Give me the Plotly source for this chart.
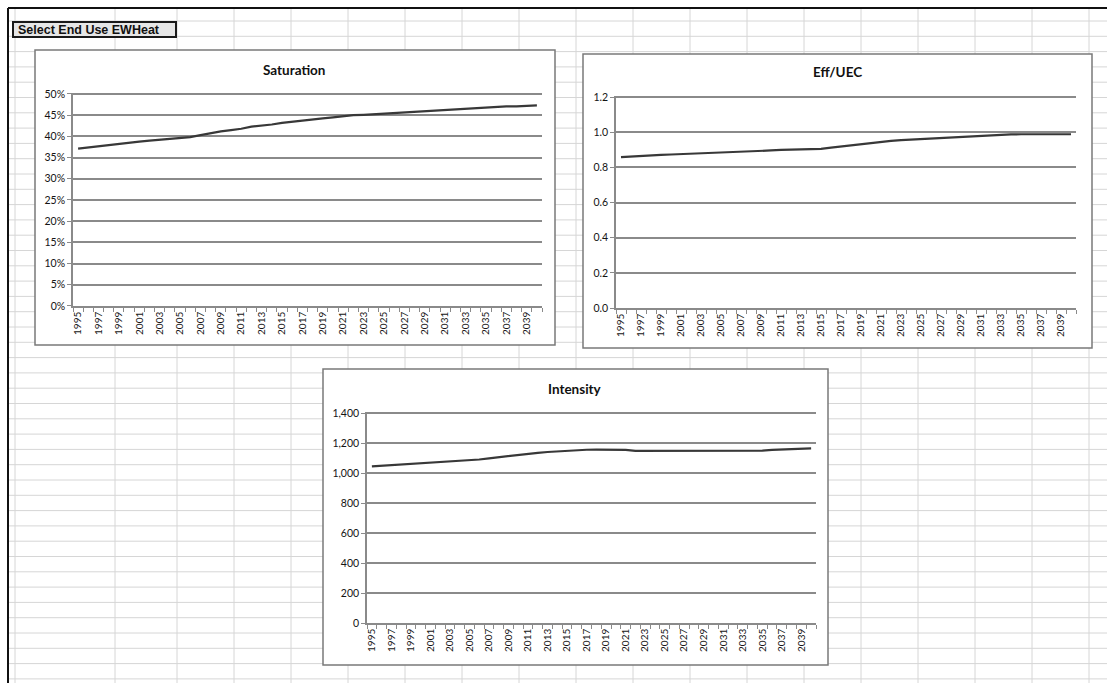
import plotly.graph_objects as go

# ---- data -------------------------------------------------------------
years = list(range(1995, 2041))

saturation_pct = [
    37.1, 37.4, 37.7, 38.0, 38.25, 38.5, 38.75, 39.0, 39.2, 39.45,
    39.65, 39.85, 40.3, 40.8, 41.2, 41.5, 41.8, 42.3, 42.5, 42.8,
    43.2, 43.5, 43.8, 44.0, 44.25, 44.5, 44.8, 45.0, 45.1, 45.25,
    45.3, 45.6, 45.75, 45.85, 45.95, 46.05, 46.35, 46.5, 46.6, 46.7,
    46.85, 47.0, 47.1, 47.1, 47.2, 47.3,
]

eff_uec = [
    0.858, 0.862, 0.866, 0.869, 0.871, 0.873, 0.875, 0.877, 0.878, 0.880,
    0.882, 0.885, 0.888, 0.890, 0.893, 0.896, 0.899, 0.901, 0.901, 0.902,
    0.905, 0.912, 0.919, 0.925, 0.931, 0.937, 0.943, 0.950, 0.955, 0.958,
    0.961, 0.965, 0.969, 0.972, 0.975, 0.978, 0.981, 0.983, 0.985, 0.987,
    0.988, 0.988, 0.988, 0.988, 0.988, 0.988,
]

intensity = [
    1044, 1048, 1052, 1055, 1058, 1064, 1070, 1073, 1076, 1078,
    1083, 1090, 1098, 1106, 1114, 1121, 1128, 1134, 1140, 1145,
    1149, 1152, 1155, 1156, 1156, 1156, 1154, 1148, 1148, 1148,
    1148, 1148, 1148, 1148, 1148, 1148, 1148, 1148, 1148, 1148,
    1149, 1154, 1157, 1158, 1163, 1164,
]

year_labels = [y for y in years if y % 2 == 1]

sat_ticks = [0, 5, 10, 15, 20, 25, 30, 35, 40, 45, 50]
sat_tick_text = [f"{v}%" for v in sat_ticks]
eff_ticks = [0.0, 0.2, 0.4, 0.6, 0.8, 1.0, 1.2]
int_ticks = [0, 200, 400, 600, 800, 1000, 1200, 1400]

# ---- page geometry (pixels) ------------------------------------------
W, H = 1107, 683


def px(x):
    return x / W


def py(y):
    return 1 - y / H


FONT = "Lato, 'Open Sans', Arial, sans-serif"
BTN_FONT = "'Liberation Sans', Arial, sans-serif"
LINE_COLOR = "#383838"
GRID_COLOR = "#8a8a8a"
AXIS_COLOR = "#8a8a8a"
SHEET_GRID = "#d6d6d6"
TEXT_COLOR = "#141414"

fig = go.Figure()

panels = [
    # name, values, x-axis id, y-axis id, plot area (left, top, right, bottom)
    ("Saturation", saturation_pct, "x", "y", (73, 94, 542, 306)),
    ("Eff/UEC", eff_uec, "x2", "y2", (616, 97, 1076, 308)),
    ("Intensity", intensity, "x3", "y3", (367, 413, 816, 623)),
]

for name, vals, xa, ya, _ in panels:
    fig.add_trace(go.Scatter(
        x=years, y=vals, mode="lines", name=name,
        line=dict(color=LINE_COLOR, width=2.2),
        xaxis=xa, yaxis=ya, showlegend=False, hoverinfo="x+y",
    ))


def x_axis(left, right, anchor):
    return dict(
        domain=[px(left), px(right)], anchor=anchor,
        range=[1994.5, 2040.5],
        tickmode="array", tickvals=year_labels,
        ticktext=[str(y) for y in year_labels],
        tickangle=-90, ticks="", ticklen=4,
        tickfont=dict(family=FONT, size=10, color=TEXT_COLOR),
        showgrid=False, zeroline=False, automargin=False,
        showline=True, linecolor=AXIS_COLOR, linewidth=1.5,
        minor=dict(ticks="outside", tickmode="linear", tick0=1994.5, dtick=1,
                   ticklen=4, tickcolor=AXIS_COLOR, tickwidth=1, showgrid=False),
        fixedrange=True,
    )


# The range is padded a hair above the top tick so that its gridline is drawn;
# the domain is stretched by the same amount so the tick sits at "top".
PAD = 0.006


def y_axis(top, bottom, anchor, vmax, tickvals, **kw):
    top_px = top - (bottom - top) * PAD
    d = dict(
        domain=[py(bottom), py(top_px)], anchor=anchor,
        range=[0, vmax * (1 + PAD)],
        tickmode="array", tickvals=tickvals,
        ticks="outside", ticklen=4, tickcolor=AXIS_COLOR,
        tickfont=dict(family=FONT, size=10.5, color=TEXT_COLOR),
        showgrid=True, gridcolor=GRID_COLOR, gridwidth=1.5,
        zeroline=False, automargin=False,
        showline=True, linecolor=AXIS_COLOR, linewidth=1.5,
        fixedrange=True,
    )
    d.update(kw)
    return d


(l1, t1, r1, b1) = panels[0][4]
(l2, t2, r2, b2) = panels[1][4]
(l3, t3, r3, b3) = panels[2][4]

fig.update_layout(
    xaxis=x_axis(l1, r1, "y"),
    yaxis=y_axis(t1, b1, "x", 50, sat_ticks, ticktext=sat_tick_text),
    xaxis2=x_axis(l2, r2, "y2"),
    yaxis2=y_axis(t2, b2, "x2", 1.2, eff_ticks, tickformat=".1f"),
    xaxis3=x_axis(l3, r3, "y3"),
    yaxis3=y_axis(t3, b3, "x3", 1400, int_ticks, tickformat=","),
)

# ---- worksheet background: cell grid ----------------------------------
shapes = []
row_lines = [21 + 15.3 * k for k in range(44)]
col_lines = [15, 115] + [177 + 57 * k for k in range(17)]
for y in row_lines:
    shapes.append(dict(type="line", xref="paper", yref="paper",
                       x0=px(8), x1=1, y0=py(y), y1=py(y),
                       line=dict(color=SHEET_GRID, width=1), layer="below"))
for x in col_lines:
    shapes.append(dict(type="line", xref="paper", yref="paper",
                       x0=px(x), x1=px(x), y0=py(8), y1=0,
                       line=dict(color=SHEET_GRID, width=1), layer="below"))

# window frame (top and left edges)
shapes.append(dict(type="line", xref="paper", yref="paper",
                   x0=px(8), x1=1, y0=py(8), y1=py(8),
                   line=dict(color="#111111", width=2), layer="below"))
shapes.append(dict(type="line", xref="paper", yref="paper",
                   x0=px(8), x1=px(8), y0=py(8), y1=0,
                   line=dict(color="#111111", width=2), layer="below"))

# chart frames
chart_boxes = [(35, 50, 555, 345), (583, 54, 1092, 348), (323, 369, 828, 665)]
for (x0, y0, x1, y1) in chart_boxes:
    shapes.append(dict(type="rect", xref="paper", yref="paper",
                       x0=px(x0), x1=px(x1), y0=py(y1), y1=py(y0),
                       fillcolor="white",
                       line=dict(color="#7a7a7a", width=1.5), layer="below"))

# "Select End Use" button
shapes.append(dict(type="rect", xref="paper", yref="paper",
                   x0=px(13), x1=px(176), y0=py(37), y1=py(22),
                   fillcolor="#e6e6e6",
                   line=dict(color="#1a1a1a", width=2), layer="below"))

annotations = [
    dict(text="<b>Select End Use EWHeat</b>", xref="paper", yref="paper",
         x=px(16), y=py(30), xanchor="left", yanchor="middle",
         showarrow=False, font=dict(family=BTN_FONT, size=12.5, color="#111111")),
    dict(text="<b>Saturation</b>", xref="paper", yref="paper",
         x=px(294), y=py(70), xanchor="center", yanchor="middle",
         showarrow=False, font=dict(family=FONT, size=13.5, color="#111111")),
    dict(text="<b>Eff/UEC</b>", xref="paper", yref="paper",
         x=px(837), y=py(72), xanchor="center", yanchor="middle",
         showarrow=False, font=dict(family=FONT, size=13.5, color="#111111")),
    dict(text="<b>Intensity</b>", xref="paper", yref="paper",
         x=px(575), y=py(389), xanchor="center", yanchor="middle",
         showarrow=False, font=dict(family=FONT, size=13.5, color="#111111")),
]

fig.update_layout(
    width=W, height=H,
    margin=dict(l=0, r=0, t=0, b=0, pad=0),
    paper_bgcolor="white",
    plot_bgcolor="rgba(0,0,0,0)",
    shapes=shapes,
    annotations=annotations,
    font=dict(family=FONT),
)

fig.write_html("out.html")
